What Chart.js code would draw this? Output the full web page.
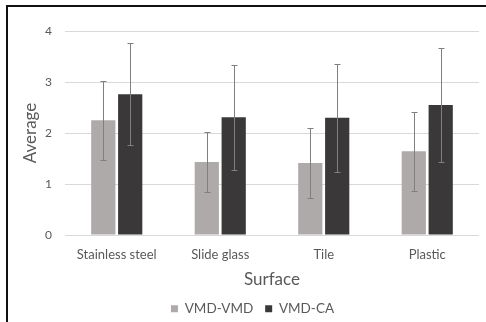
<!DOCTYPE html>
<html>
<head>
<meta charset="utf-8">
<script src="https://cdn.jsdelivr.net/npm/chart.js@4"></script>
<style>
  body { margin: 0; background: #fff; }
  #wrap { position: relative; width: 486px; height: 322px; }
  #frame { position: absolute; left: 6px; top: 5px; width: 478px; height: 330px;
           border-top: 2px solid #111; border-left: 2px solid #111; pointer-events: none; }
</style>
</head>
<body>
<div id="wrap">
  <canvas id="surfaceChart" width="486" height="322"></canvas>
  <div id="frame"></div>
</div>
<script>
const surfaces = ['Stainless steel', 'Slide glass', 'Tile', 'Plastic'];
const vmdVmd = [2.25, 1.43, 1.41, 1.64];
const vmdVmdErr = [0.77, 0.59, 0.68, 0.78];
const vmdCa = [2.76, 2.31, 2.30, 2.55];
const vmdCaErr = [1.00, 1.03, 1.06, 1.12];
const yTicks = [0, 1, 2, 3, 4];

const textColor = '#595959';
const fontFamily = 'Lato, "Open Sans", sans-serif';

// draws the error bars on top of each bar
const errorBars = {
  id: 'errorBars',
  afterDatasetsDraw(chart) {
    const ctx = chart.ctx;
    const yScale = chart.scales.y;
    chart.data.datasets.forEach((ds, i) => {
      const meta = chart.getDatasetMeta(i);
      meta.data.forEach((bar, j) => {
        const v = ds.data[j];
        const e = ds.errors[j];
        const top = Math.round(yScale.getPixelForValue(v + e)) + 0.5;
        const bottom = Math.round(yScale.getPixelForValue(v - e)) + 0.5;
        const x = Math.round(bar.x) + 0.5;
        ctx.save();
        ctx.strokeStyle = '#7f7f7f';
        ctx.lineWidth = 1;
        ctx.beginPath();
        ctx.moveTo(x, top);
        ctx.lineTo(x, bottom);
        ctx.moveTo(x - 3, top);
        ctx.lineTo(x + 3, top);
        ctx.moveTo(x - 3, bottom);
        ctx.lineTo(x + 3, bottom);
        ctx.stroke();
        ctx.restore();
      });
    });
  }
};

const ctx = document.getElementById('surfaceChart').getContext('2d');
new Chart(ctx, {
  type: 'bar',
  data: {
    labels: surfaces,
    datasets: [
      { label: 'VMD-VMD', data: vmdVmd, errors: vmdVmdErr, backgroundColor: '#aeaaaa',
        categoryPercentage: 0.52, barPercentage: 0.9 },
      { label: 'VMD-CA', data: vmdCa, errors: vmdCaErr, backgroundColor: '#3a3838',
        categoryPercentage: 0.52, barPercentage: 0.9 }
    ]
  },
  options: {
    responsive: false,
    animation: false,
    layout: { padding: { left: 26, right: 7, top: 31, bottom: 2 } },
    plugins: {
      tooltip: { enabled: false },
      legend: {
        position: 'bottom',
        maxHeight: 30,
        labels: {
          color: textColor,
          font: { family: fontFamily, size: 13.5 },
          boxWidth: 7,
          boxHeight: 7,
          padding: 12
        }
      }
    },
    scales: {
      x: {
        grid: { display: false, drawTicks: false },
        border: { display: false },
        ticks: { color: textColor, font: { family: fontFamily, size: 13 }, padding: 12, maxRotation: 0 },
        title: { display: true, text: 'Surface', color: textColor,
                 font: { family: fontFamily, size: 17 }, padding: { top: 0, bottom: 0 } },
        afterFit(scale) { scale.height = 55; }
      },
      y: {
        min: 0,
        max: 4,
        afterBuildTicks(scale) { scale.ticks = yTicks.map(v => ({ value: v })); },
        grid: { color: '#d9d9d9', drawTicks: false },
        border: { display: false },
        ticks: { color: textColor, font: { family: fontFamily, size: 12 }, padding: 13 },
        title: { display: true, text: 'Average', color: textColor,
                 font: { family: fontFamily, size: 17 }, padding: { top: -6, bottom: 0 } },
        afterFit(scale) { scale.width = 39; }
      }
    }
  },
  plugins: [errorBars]
});
</script>
</body>
</html>
